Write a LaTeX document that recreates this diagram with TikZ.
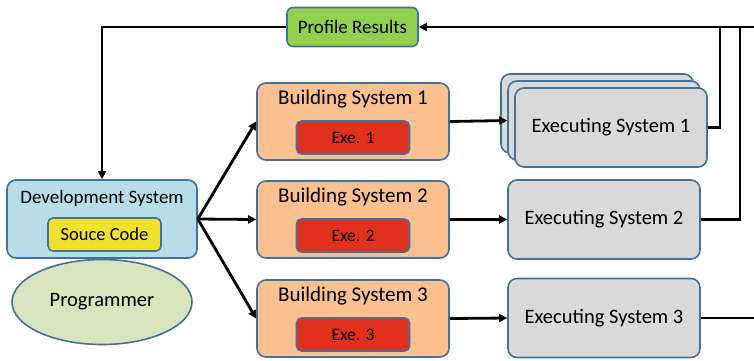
\documentclass[tikz,border=0pt]{standalone}
\usepackage{fontspec}
\setmainfont{Carlito}
\usepackage{tikz}
\usetikzlibrary{arrows.meta,positioning,shapes.geometric}
\definecolor{frame}{HTML}{41719C}
\definecolor{devblue}{HTML}{B7DEE8}
\definecolor{codeyellow}{HTML}{EFE12E}
\definecolor{buildorange}{HTML}{FAC090}
\definecolor{exered}{HTML}{E0311F}
\definecolor{execgray}{HTML}{D9D9D9}
\definecolor{resgreen}{HTML}{92D050}
\definecolor{progolive}{HTML}{D7E4BD}

\begin{document}
\begin{tikzpicture}[x=1pt,y=-1pt,
    box/.style={draw=frame,line width=1.6pt,rounded corners=9pt,inner sep=0pt},
    small/.style={box,rounded corners=5pt,minimum width=113pt,minimum height=33pt,font=\fontsize{17.5}{20}\selectfont},
    devbox/.style={box,fill=devblue,minimum width=190pt,minimum height=78pt},
    buildbox/.style={box,fill=buildorange,minimum width=192pt,minimum height=77pt},
    execbox/.style={box,fill=execgray,minimum width=192pt,minimum height=79pt,font=\fontsize{20.5}{24}\selectfont},
    title/.style={inner sep=0pt,font=\fontsize{21}{24}\selectfont},
    conn/.style={line width=2.8pt,black},
    arr/.style={conn,-{Triangle[length=8pt,width=8pt]}}]
    \useasboundingbox (0,0) rectangle (754,360);
    % top: collected results
    \node[box,rounded corners=6pt,fill=resgreen,minimum width=131pt,minimum height=39pt,font=\fontsize{19}{22}\selectfont] (prof) at (352.5,27) {Profile Results};
    % development side
    \node[devbox] (dev) at (102,219) {};
    \node[title,font=\fontsize{19}{22}\selectfont] (devt) at (102,198) {Development System};
    \node[small,fill=codeyellow,font=\fontsize{18.5}{21}\selectfont] (src) at (104.5,234.5) {Souce Code};
    \node[ellipse,draw=frame,line width=1.6pt,fill=progolive,minimum width=180pt,minimum height=85pt,inner sep=0pt,font=\fontsize{20.5}{24}\selectfont] (prog) at (102,302) {Programmer};
    % building systems
    \node[buildbox] (bs1) at (353,121.5) {};
    \node[title] (bs1t) at (353,99) {Building System 1};
    \node[small,fill=exered] (exe1) at (353,137.5) {Exe. 1};
    \node[buildbox] (bs2) at (353,219.5) {};
    \node[title] (bs2t) at (353,197) {Building System 2};
    \node[small,fill=exered] (exe2) at (353,235.5) {Exe. 2};
    \node[buildbox] (bs3) at (353,318.5) {};
    \node[title] (bs3t) at (353,296) {Building System 3};
    \node[small,fill=exered] (exe3) at (353,334.5) {Exe. 3};
    % executing systems
    \node[execbox] (es1c) at (597,113.5) {};
    \node[execbox] (es1b) at (604,120.5) {};
    \node[execbox] (es1) at (611,127.5) {Executing System 1};
    \node[execbox] (es2) at (604,219.5) {Executing System 2};
    \node[execbox] (es3) at (604,318) {Executing System 3};
    % junctions and clipped ends
    \coordinate (edgeT) at (754,27);
    \coordinate (edge3) at (754,318);
    \coordinate (j1) at (720,27);
    \coordinate (j2) at (740,27);
    % connectors
    \draw[arr] (dev.east) -- (bs1.west);
    \draw[arr] (dev.east) -- (bs2.west);
    \draw[arr] (dev.east) -- (bs3.west);
    \draw[arr] (bs1.east) -- (es1b.west);
    \draw[arr] (bs2.east) -- (es2.west);
    \draw[arr] (bs3.east) -- (es3.west);
    \draw[conn] (es1.east) -| (j1);
    \draw[conn] (es2.east) -| (j2);
    \draw[conn] (es3.east) -- (edge3);
    \draw[arr] (edgeT) -- (prof.east);
    \draw[arr] (prof.west) -| (dev.north);
\end{tikzpicture}
\end{document}
